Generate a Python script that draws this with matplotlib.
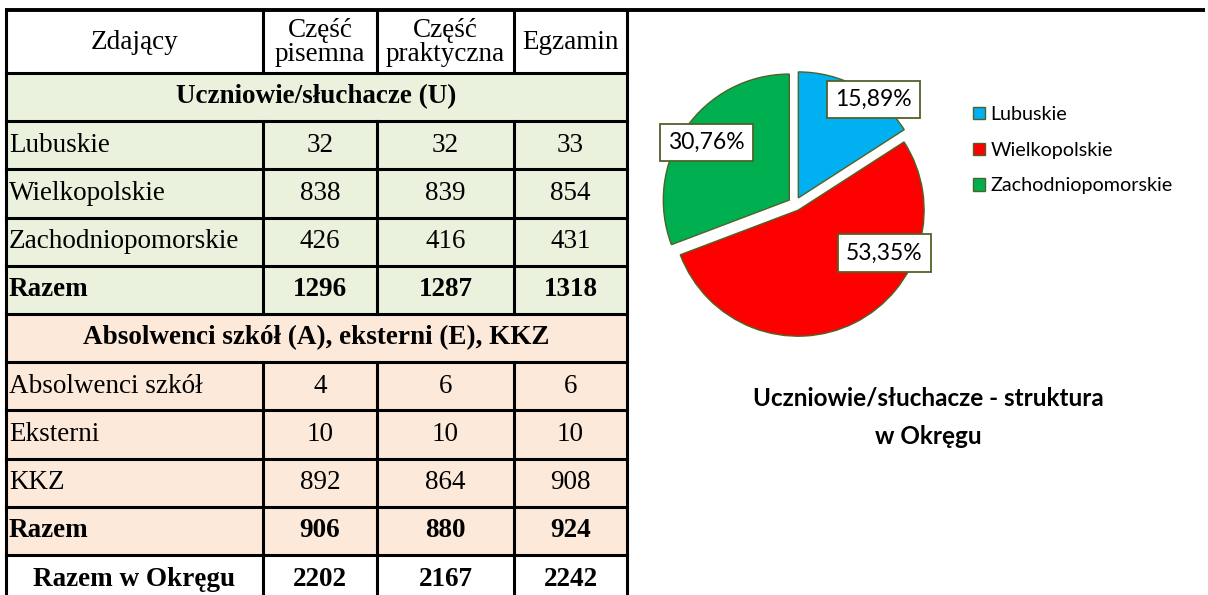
import matplotlib
matplotlib.use('Agg')
import matplotlib.pyplot as plt
from matplotlib.patches import Rectangle

# --- data ---
col_headers = ['Zdający', 'Część\npisemna', 'Część\npraktyczna', 'Egzamin']

section_u = 'Uczniowie/słuchacze (U)'
labels_u = ['Lubuskie', 'Wielkopolskie', 'Zachodniopomorskie']
pisemna_u = [32, 838, 426]
praktyczna_u = [32, 839, 416]
egzamin_u = [33, 854, 431]
razem_u = [1296, 1287, 1318]

section_a = 'Absolwenci szkół (A), eksterni (E), KKZ'
labels_a = ['Absolwenci szkół', 'Eksterni', 'KKZ']
pisemna_a = [4, 10, 892]
praktyczna_a = [6, 10, 864]
egzamin_a = [6, 10, 908]
razem_a = [906, 880, 924]

razem_okreg = [2202, 2167, 2242]

pie_labels = ['Lubuskie', 'Wielkopolskie', 'Zachodniopomorskie']
pie_shares = [15.89, 53.35, 30.76]
pie_colors = ['#00B0F0', '#FF0000', '#00B050']
pie_title = ['Uczniowie/słuchacze - struktura', 'w Okręgu']

# --- layout (pixels) ---
W, H = 1208, 595
col_edges = [6, 263, 377, 514, 627]
top = 10
header_h = 63
row_h = 48.2
green = '#EAF1DD'
peach = '#FDE9D9'
line_c = 'black'
lw = 2.2
serif = 'Liberation Serif'
fs = 19.5

fig = plt.figure(figsize=(W / 100, H / 100), dpi=100)
ax = fig.add_axes([0, 0, 1, 1])
ax.set_xlim(0, W)
ax.set_ylim(H, 0)
ax.axis('off')

# build rows: (kind, label, values, fill, bold)
rows = [('section', section_u, None, green, True)]
for lab, a, b, c in zip(labels_u, pisemna_u, praktyczna_u, egzamin_u):
    rows.append(('data', lab, [a, b, c], green, False))
rows.append(('data', 'Razem', razem_u, green, True))
rows.append(('section', section_a, None, peach, True))
for lab, a, b, c in zip(labels_a, pisemna_a, praktyczna_a, egzamin_a):
    rows.append(('data', lab, [a, b, c], peach, False))
rows.append(('data', 'Razem', razem_a, peach, True))
rows.append(('total', 'Razem w Okręgu', razem_okreg, 'white', True))

x0, x1 = col_edges[0], col_edges[-1]

# header row
for i, txt in enumerate(col_headers):
    cx = (col_edges[i] + col_edges[i + 1]) / 2
    ax.text(cx, top + header_h / 2 + 1, txt, ha='center', va='center',
            family=serif, fontsize=fs, linespacing=0.95)
for xe in col_edges:
    ax.plot([xe, xe], [top, top + header_h], color=line_c, lw=lw)

y = top + header_h
for kind, lab, vals, fill, bold in rows:
    ax.add_patch(Rectangle((x0, y), x1 - x0, row_h, facecolor=fill, edgecolor='none', zorder=0))
    weight = 'bold' if bold else 'normal'
    cy = y + row_h / 2
    if kind == 'section':
        ax.text((x0 + x1) / 2, cy, lab, ha='center', va='center',
                family=serif, fontsize=fs, weight='bold')
        edges = [x0, x1]
    else:
        if kind == 'total':
            ax.text((col_edges[0] + col_edges[1]) / 2, cy, lab, ha='center', va='center',
                    family=serif, fontsize=fs, weight=weight)
        else:
            ax.text(col_edges[0] + 3, cy, lab, ha='left', va='center',
                    family=serif, fontsize=fs, weight=weight)
        for j, v in enumerate(vals):
            cx = (col_edges[j + 1] + col_edges[j + 2]) / 2
            ax.text(cx, cy, str(v), ha='center', va='center',
                    family=serif, fontsize=fs, weight=weight)
        edges = col_edges
    for xe in edges:
        ax.plot([xe, xe], [y, y + row_h], color=line_c, lw=lw)
    ax.plot([x0, x1], [y, y], color=line_c, lw=lw)
    y += row_h

# long top rule across the page
ax.plot([x0 - 1, 1205], [top, top], color=line_c, lw=lw + 0.6, solid_capstyle='butt')

# --- pie ---
cx_pie, cy_pie, R = 795, 204, 126
S = 3.2 * R
ax_pie = fig.add_axes([(cx_pie - S / 2) / W, (H - cy_pie - S / 2) / H, S / W, S / H])
wedges, _ = ax_pie.pie(pie_shares, colors=pie_colors, startangle=90, counterclock=False,
                       explode=[0.055] * len(pie_shares), radius=1,
                       wedgeprops=dict(edgecolor='#4F6228', linewidth=1.0))
ax_pie.set_xlim(-1.6, 1.6)
ax_pie.set_ylim(-1.6, 1.6)
ax_pie.axis('off')

label_pos = [(0.62, 0.83), (0.71, -0.39), (-0.70, 0.49)]
for (lx, ly), v in zip(label_pos, pie_shares):
    ax_pie.text(lx, ly, f'{v:.2f}%'.replace('.', ','), ha='center', va='center',
                family='Lato', fontsize=16.5,
                bbox=dict(boxstyle='square,pad=0.36', facecolor='white',
                          edgecolor='#4F6228', linewidth=1.3))

fig.legend(wedges, pie_labels, loc='upper left', bbox_to_anchor=(973 / W, 1 - 106 / H),
           frameon=False, prop={'family': 'Lato', 'size': 14.2},
           handlelength=0.6, handleheight=0.6, handletextpad=0.3,
           labelspacing=0.95, borderpad=0, borderaxespad=0)

fig.text(928 / W, 1 - 398 / H, pie_title[0], ha='center', va='center',
         family='Lato', fontsize=17.5, weight='bold')
fig.text(928 / W, 1 - 437 / H, pie_title[1], ha='center', va='center',
         family='Lato', fontsize=17.5, weight='bold')

fig.savefig('out.png', dpi=100)
